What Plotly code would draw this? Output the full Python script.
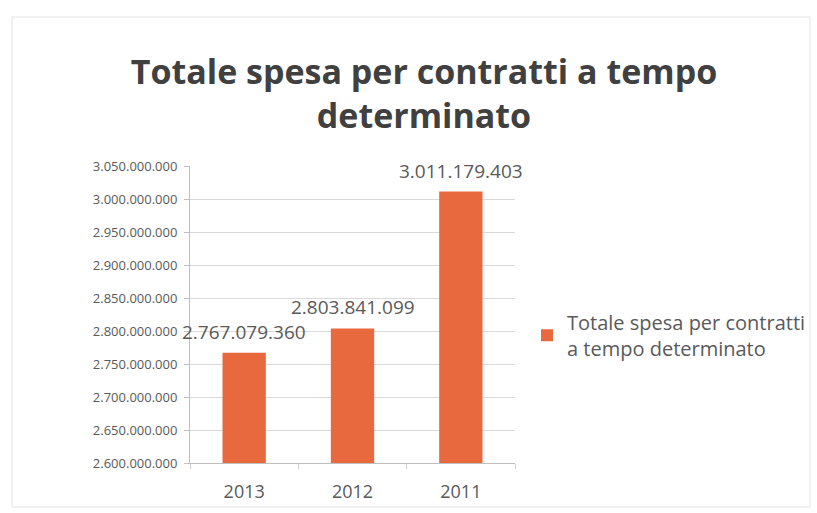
import plotly.graph_objects as go

# Data
anni = ["2013", "2012", "2011"]
spesa = [2767079360, 2803841099, 3011179403]
etichette = ["2.767.079.360", "2.803.841.099", "3.011.179.403"]
serie = "Totale spesa per contratti a tempo determinato"
tick_vals = [2600000000 + 50000000 * i for i in range(10)]

BAR = "#E8693E"
TXT = "#595959"
FONT = "Open Sans"

fig = go.Figure()
fig.add_trace(go.Bar(
    x=anni, y=spesa, name="Totale spesa per contratti<br>a tempo determinato",
    marker=dict(color=BAR, line=dict(width=0)),
    width=0.4,
))

# value labels above each bar (category position given by index, since the
# category names are numeric strings)
for i, (v, t) in enumerate(zip(spesa, etichette)):
    fig.add_annotation(x=i, y=v, xref="x", yref="y", text=t, showarrow=False, yshift=21,
                       font=dict(family=FONT, size=19, color=TXT))

fig.update_layout(
    width=817, height=513,
    paper_bgcolor="white", plot_bgcolor="white",
    margin=dict(l=190, r=302, t=166, b=50, autoexpand=False),
    separators=",.",
    title=dict(text="Totale spesa per contratti a tempo<br>determinato",
               x=424 / 817, xanchor="center", y=1 - 84 / 513, yanchor="middle",
               xref="container", yref="container",
               font=dict(family=FONT, size=34, color="#404040", weight="bold")),
    showlegend=True,
    legend=dict(x=1.037, xanchor="left", y=0.43, yanchor="middle",
                font=dict(family=FONT, size=20, color=TXT),
                itemsizing="constant", bgcolor="rgba(0,0,0,0)"),
    xaxis=dict(type="category", categoryorder="array", categoryarray=anni,
               range=[-0.5, 2.5], showline=True, linecolor="#bfbfbf",
               ticks="outside", ticklen=5, tickcolor="#d0d0d0", tickson="boundaries",
               tickangle=0, ticklabelstandoff=12,
               tickfont=dict(family=FONT, size=18, color=TXT)),
    yaxis=dict(range=[2600000000, 3050000000], tickvals=tick_vals, tickformat=",d",
               showgrid=True, gridcolor="#d9d9d9", gridwidth=1,
               showline=True, linecolor="#bfbfbf", ticks="outside",
               ticklen=5, tickcolor="#bfbfbf", ticklabelstandoff=4,
               tickfont=dict(family=FONT, size=13, color=TXT), zeroline=False),
)

# light frame around the chart area
fig.add_shape(type="rect", xref="paper", yref="paper",
              x0=-178 / 325, x1=(810 - 190) / 325, y0=-44 / 297, y1=(463 - 17) / 297,
              line=dict(color="#e3e3e3", width=1), fillcolor="rgba(0,0,0,0)", layer="below")

fig.write_html("out.html")
